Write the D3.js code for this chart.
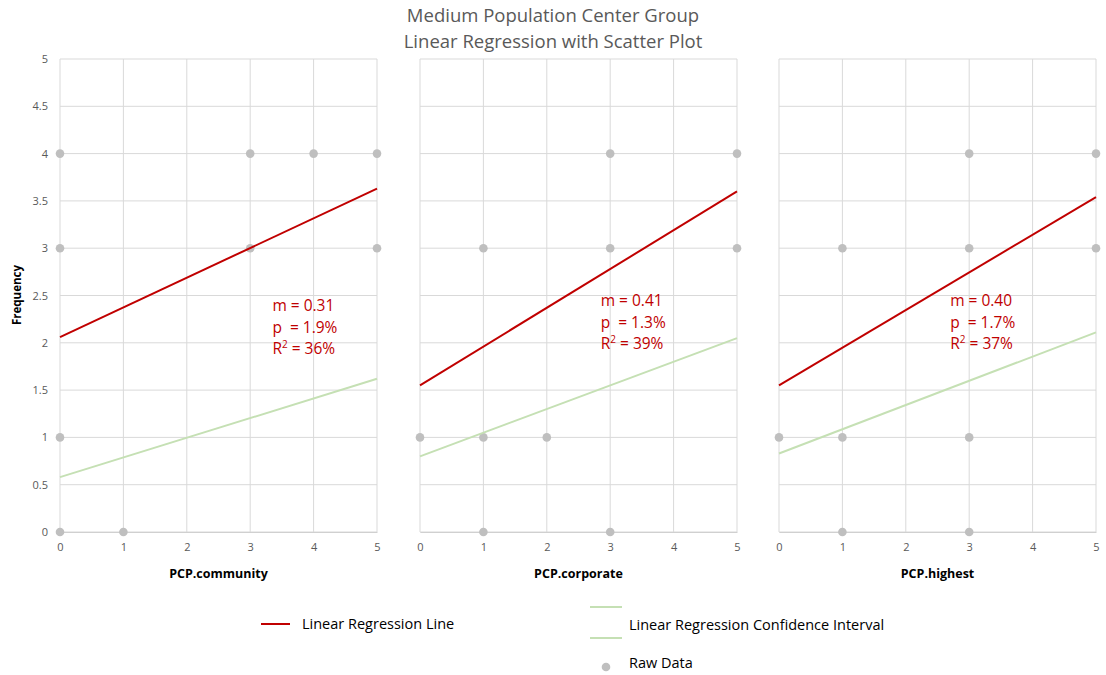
<!DOCTYPE html>
<html>
<head>
<meta charset="utf-8">
<script src="https://cdn.jsdelivr.net/npm/d3@7"></script>
<style>
  body { margin: 0; background: #fff; }
  text { font-family: "Open Sans", "Noto Sans", sans-serif; }
</style>
</head>
<body>
<div id="chart"></div>
<script>
// panels, one per predictor
var panelNames = ["PCP.community", "PCP.corporate", "PCP.highest"];

// raw data points [x, y] per panel
var rawCommunity = [[0,4],[3,4],[4,4],[5,4],[0,3],[3,3],[5,3],[0,1],[0,0],[1,0]];
var rawCorporate = [[3,4],[5,4],[1,3],[3,3],[5,3],[0,1],[1,1],[2,1],[1,0],[3,0]];
var rawHighest   = [[3,4],[5,4],[1,3],[3,3],[5,3],[0,1],[1,1],[3,1],[1,0],[3,0]];

// regression line end values at x=0 and x=5
var regLine = [[2.06, 3.63], [1.55, 3.60], [1.55, 3.54]];
// lower confidence line end values at x=0 and x=5
var ciLine  = [[0.58, 1.62], [0.80, 2.05], [0.83, 2.11]];

var slopes = ["0.31", "0.41", "0.40"];
var pvals  = ["1.9%", "1.3%", "1.7%"];
var r2vals = ["36%", "39%", "37%"];
// annotation anchor in data units (x, y of first line)
var annotPos = [[3.35, 2.34], [2.85, 2.39], [2.7, 2.39]];

var xTicks = [0, 1, 2, 3, 4, 5];
var yTicks = [0, 0.5, 1, 1.5, 2, 2.5, 3, 3.5, 4, 4.5, 5];

var rawAll = [rawCommunity, rawCorporate, rawHighest];

var W = 1106, H = 675;
var panelLeft = [60, 420, 779];
var panelW = 317;
var plotTop = 59, plotBottom = 532;

var svg = d3.select("#chart").append("svg")
    .attr("width", W)
    .attr("height", H);

svg.append("text")
    .attr("x", 553).attr("y", 22)
    .attr("text-anchor", "middle")
    .attr("fill", "#595959")
    .style("font-size", "18.5px")
    .text("Medium Population Center Group");
svg.append("text")
    .attr("x", 553).attr("y", 48)
    .attr("text-anchor", "middle")
    .attr("fill", "#595959")
    .style("font-size", "18.5px")
    .text("Linear Regression with Scatter Plot");

svg.append("text")
    .attr("transform", "translate(21,295) rotate(-90)")
    .attr("text-anchor", "middle")
    .attr("fill", "#000")
    .style("font-size", "11.5px")
    .style("font-weight", "bold")
    .text("Frequency");

var y = d3.scaleLinear().domain([0, 5]).range([plotBottom, plotTop]);

panelNames.forEach(function(name, i) {
    var x = d3.scaleLinear().domain([0, 5]).range([panelLeft[i], panelLeft[i] + panelW]);
    var g = svg.append("g");

    // grid
    g.selectAll(".hg").data(yTicks).enter().append("line")
        .attr("x1", x(0)).attr("x2", x(5))
        .attr("y1", function(d) { return y(d); })
        .attr("y2", function(d) { return y(d); })
        .attr("stroke", "#d9d9d9").attr("stroke-width", 1);
    g.selectAll(".vg").data(xTicks).enter().append("line")
        .attr("x1", function(d) { return x(d); })
        .attr("x2", function(d) { return x(d); })
        .attr("y1", y(0)).attr("y2", y(5))
        .attr("stroke", "#d9d9d9").attr("stroke-width", 1);

    // x axis
    var xAxis = d3.axisBottom(x).tickValues(xTicks).tickSize(0).tickPadding(11)
        .tickFormat(d3.format("d"));
    var xa = g.append("g")
        .attr("transform", "translate(0," + y(0) + ")")
        .call(xAxis);
    xa.select(".domain").attr("stroke", "#d0d0d0");
    xa.selectAll("text").attr("fill", "#595959").style("font-size", "11px")
        .style("font-family", "'Open Sans', sans-serif");

    if (i === 0) {
        var yAxis = d3.axisLeft(y).tickValues(yTicks).tickSize(0).tickPadding(12)
            .tickFormat(function(d) { return String(d); });
        var ya = g.append("g")
            .attr("transform", "translate(" + x(0) + ",0)")
            .call(yAxis);
        ya.select(".domain").remove();
        ya.selectAll("text").attr("fill", "#595959").style("font-size", "11px")
            .style("font-family", "'Open Sans', sans-serif");
    }

    g.append("text")
        .attr("x", x(2.5)).attr("y", 578)
        .attr("text-anchor", "middle")
        .style("font-size", "12.5px")
        .style("font-weight", "bold")
        .text(name);

    // raw points
    g.selectAll(".pt").data(rawAll[i]).enter().append("circle")
        .attr("cx", function(d) { return x(d[0]); })
        .attr("cy", function(d) { return y(d[1]); })
        .attr("r", 4.3)
        .attr("fill", "#bfbfbf");

    var line = d3.line()
        .x(function(d) { return x(d[0]); })
        .y(function(d) { return y(d[1]); });

    g.append("path")
        .datum([[0, ciLine[i][0]], [5, ciLine[i][1]]])
        .attr("d", line)
        .attr("fill", "none")
        .attr("stroke", "#c5e0b4")
        .attr("stroke-width", 2);

    g.append("path")
        .datum([[0, regLine[i][0]], [5, regLine[i][1]]])
        .attr("d", line)
        .attr("fill", "none")
        .attr("stroke", "#c00000")
        .attr("stroke-width", 2);

    // annotation
    var ax = x(annotPos[i][0]), ay = y(annotPos[i][1]);
    var t = g.append("g").attr("fill", "#c00000").style("font-size", "15.5px");
    t.append("text").attr("x", ax).attr("y", ay).text("m = " + slopes[i]);
    t.append("text").attr("x", ax).attr("y", ay + 22).text("p\u00a0 = " + pvals[i]);
    var r = t.append("text").attr("x", ax).attr("y", ay + 43);
    r.append("tspan").text("R");
    r.append("tspan").attr("dy", -6).style("font-size", "10px").text("2");
    r.append("tspan").attr("dy", 6).text(" = " + r2vals[i]);
});

// legend
var lg = svg.append("g").style("font-size", "14.5px").attr("fill", "#000");
lg.append("line").attr("x1", 261).attr("x2", 290).attr("y1", 624).attr("y2", 624)
    .attr("stroke", "#c00000").attr("stroke-width", 2);
lg.append("text").attr("x", 302).attr("y", 629).text("Linear Regression Line");
lg.append("line").attr("x1", 590).attr("x2", 622).attr("y1", 607).attr("y2", 607)
    .attr("stroke", "#c5e0b4").attr("stroke-width", 2);
lg.append("line").attr("x1", 590).attr("x2", 622).attr("y1", 638).attr("y2", 638)
    .attr("stroke", "#c5e0b4").attr("stroke-width", 2);
lg.append("text").attr("x", 629).attr("y", 630).text("Linear Regression Confidence Interval");
lg.append("circle").attr("cx", 606).attr("cy", 667).attr("r", 4.3).attr("fill", "#bfbfbf");
lg.append("text").attr("x", 629).attr("y", 668).text("Raw Data");
</script>
</body>
</html>
